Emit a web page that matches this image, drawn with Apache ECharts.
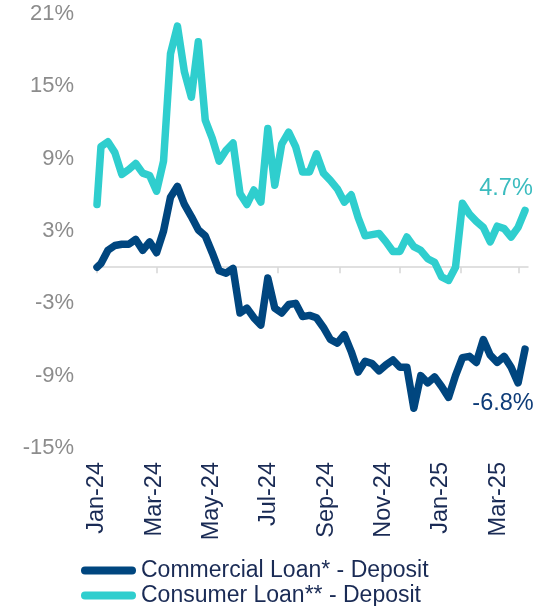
<!DOCTYPE html>
<html>
<head>
<meta charset="utf-8">
<script src="https://cdn.jsdelivr.net/npm/echarts@6.0.0/dist/echarts.min.js"></script>
<style>
  html, body { margin: 0; padding: 0; background: #fff; }
  #chart { width: 546px; height: 606px; }
</style>
</head>
<body>
<div id="chart"></div>
<script>
// weekly observations (first point is the start of the year)
const dates = [
  '2024-01-01', '2024-01-05', '2024-01-12', '2024-01-19', '2024-01-26',
  '2024-02-02', '2024-02-09', '2024-02-16', '2024-02-23',
  '2024-03-01', '2024-03-08', '2024-03-15', '2024-03-22', '2024-03-29',
  '2024-04-05', '2024-04-12', '2024-04-19', '2024-04-26',
  '2024-05-03', '2024-05-10', '2024-05-17', '2024-05-24', '2024-05-31',
  '2024-06-07', '2024-06-14', '2024-06-21', '2024-06-28',
  '2024-07-05', '2024-07-12', '2024-07-19', '2024-07-26',
  '2024-08-02', '2024-08-09', '2024-08-16', '2024-08-23', '2024-08-30',
  '2024-09-06', '2024-09-13', '2024-09-20', '2024-09-27',
  '2024-10-04', '2024-10-11', '2024-10-18', '2024-10-25',
  '2024-11-01', '2024-11-08', '2024-11-15', '2024-11-22', '2024-11-29',
  '2024-12-06', '2024-12-13', '2024-12-20', '2024-12-27',
  '2025-01-03', '2025-01-10', '2025-01-17', '2025-01-24', '2025-01-31',
  '2025-02-07', '2025-02-14', '2025-02-21', '2025-02-28',
  '2025-03-07'
];

const commercial = [
  0.0,
  0.3, 1.4, 1.8, 1.9, 1.9, 2.3, 1.4, 2.1, 1.2, 3.0,
  5.8, 6.7, 5.2, 4.2, 3.1, 2.6, 1.2, -0.3, -0.5, -0.1,
  -3.8, -3.4, -4.2, -4.8, -0.9, -3.4, -3.8, -3.1, -3.0, -4.1,
  -4.0, -4.2, -5.0, -6.0, -6.3, -5.6, -7.0, -8.7, -7.8, -8.0,
  -8.6, -8.1, -7.7, -8.3, -8.3, -11.7, -9.0, -9.6, -9.1, -9.9,
  -10.8, -9.0, -7.5, -7.4, -7.9, -6.0, -7.3, -7.9, -7.4, -8.3,
  -9.6, -6.8
];

const consumer = [
  5.2,
  10.0, 10.4, 9.5, 7.7, 8.1, 8.6, 7.8, 7.6, 6.3, 8.8,
  17.7, 20.0, 16.2, 14.1, 18.7, 12.2, 10.7, 8.8, 9.7, 10.3,
  6.1, 5.2, 6.4, 5.4, 11.5, 6.8, 10.2, 11.2, 10.0, 7.9,
  7.9, 9.4, 7.8, 7.2, 6.5, 5.4, 6.0, 4.1, 2.6, 2.7,
  2.8, 2.1, 1.3, 1.3, 2.5, 1.7, 1.4, 0.7, 0.4, -0.8,
  -1.1, 0.0, 5.3, 4.4, 3.8, 3.3, 2.1, 3.4, 3.2, 2.5,
  3.3, 4.7
];

const monthTicks = ['2024-01-01', '2024-03-01', '2024-05-01', '2024-07-01',
  '2024-09-01', '2024-11-01', '2025-01-01', '2025-03-01'];
const monthLabels = ['Jan-24', 'Mar-24', 'May-24', 'Jul-24', 'Sep-24', 'Nov-24', 'Jan-25', 'Mar-25'];
const yTicks = [-15, -9, -3, 3, 9, 15, 21];

const seriesNames = ['Commercial Loan* - Deposit', 'Consumer Loan** - Deposit'];

const NAVY = '#00467f';
const TEAL = '#2fcece';
const FONT = 'Liberation Sans, Arial, sans-serif';

function toTime(s) {
  const p = s.split('-');
  return new Date(+p[0], +p[1] - 1, +p[2]).getTime();
}

function buildData(values) {
  return values.map(function (v, i) { return [toTime(dates[i]), v]; });
}

function pct(p) {
  return p.value[1].toFixed(1) + '%';
}

const legendBar = 'path://M4,0L51,0A4,4,0,0,1,51,8L4,8A4,4,0,0,1,4,0Z';

const chart = echarts.init(document.getElementById('chart'));

chart.setOption({
  animation: false,
  textStyle: { fontFamily: FONT },
  grid: { left: 97, right: 18, top: 14, bottom: 158 },
  legend: {
    orient: 'vertical',
    left: 81,
    bottom: -1,
    padding: 0,
    itemWidth: 55,
    itemHeight: 8,
    itemGap: 2,
    selectedMode: false,
    icon: legendBar,
    textStyle: { fontSize: 23, color: '#1a2b55', fontFamily: FONT },
    data: seriesNames
  },
  xAxis: [
    {
      // date axis: line at zero with ticks every two months
      type: 'time',
      position: 'top',
      min: toTime('2024-01-01'),
      max: toTime('2025-03-10'),
      axisLine: { show: true, onZero: true, lineStyle: { color: '#d6d6d6', width: 1.5 } },
      axisTick: {
        show: true,
        inside: true,
        length: 6,
        customValues: monthTicks.map(toTime),
        lineStyle: { color: '#d6d6d6', width: 1.5 }
      },
      axisLabel: { show: false },
      splitLine: { show: false }
    },
    {
      // month labels along the bottom of the plot
      type: 'value',
      position: 'bottom',
      min: 0,
      max: 7.52,
      axisLine: { show: false, onZero: false },
      axisTick: { show: false },
      splitLine: { show: false },
      axisLabel: {
        customValues: monthLabels.map(function (_, i) { return i; }),
        formatter: function (v) { return monthLabels[Math.round(v)]; },
        rotate: 90,
        margin: 14,
        fontSize: 23.5,
        color: '#1a2b55',
        fontFamily: FONT
      }
    }
  ],
  yAxis: {
    type: 'value',
    min: -15,
    max: 21,
    axisLine: { show: false },
    axisTick: { show: false },
    splitLine: { show: false },
    axisLabel: {
      customValues: yTicks,
      formatter: '{value}%',
      margin: 23,
      fontSize: 22,
      color: '#8c8c8c',
      fontFamily: FONT
    }
  },
  series: [
    {
      name: seriesNames[0],
      type: 'line',
      xAxisIndex: 0,
      symbol: 'none',
      color: NAVY,
      itemStyle: { color: NAVY },
      lineStyle: { color: NAVY, width: 7.5, cap: 'round', join: 'round' },
      endLabel: {
        show: true,
        formatter: pct,
        distance: 0,
        align: 'center',
        verticalAlign: 'middle',
        offset: [-22, 54],
        fontSize: 23.5,
        color: '#0e3c78',
        fontFamily: FONT
      },
      data: buildData(commercial)
    },
    {
      name: seriesNames[1],
      type: 'line',
      xAxisIndex: 0,
      symbol: 'none',
      color: TEAL,
      itemStyle: { color: TEAL },
      lineStyle: { color: TEAL, width: 7.5, cap: 'round', join: 'round' },
      endLabel: {
        show: true,
        formatter: pct,
        distance: 0,
        align: 'center',
        verticalAlign: 'middle',
        offset: [-19, -22],
        fontSize: 23.5,
        color: '#3bbcbf',
        fontFamily: FONT
      },
      data: buildData(consumer)
    }
  ]
});
</script>
</body>
</html>
